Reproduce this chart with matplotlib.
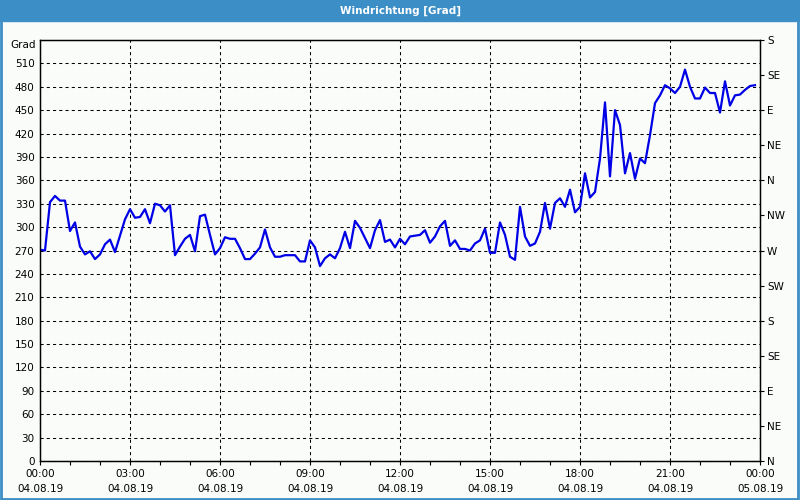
import numpy as np
import pandas as pd
import matplotlib
matplotlib.use('Agg')
import matplotlib.pyplot as plt
import matplotlib.dates as mdates

# wind direction in degrees, one value every 10 minutes from 04.08.19 00:00
grad_00_06 = [271, 270, 332, 340, 334, 334, 295, 306, 275, 265, 269, 259,
              265, 278, 284, 268, 289, 310, 323, 312, 313, 323, 305, 330,
              328, 320, 328, 264, 275, 285, 290, 269, 314, 316, 290, 265]
grad_06_12 = [273, 287, 285, 285, 273, 259, 259, 266, 274, 297, 274, 262,
              262, 264, 264, 264, 256, 256, 283, 274, 250, 260, 265, 260,
              273, 294, 273, 308, 299, 286, 273, 296, 309, 281, 284, 274]
grad_12_18 = [285, 278, 288, 289, 290, 296, 280, 288, 301, 308, 276, 283,
              272, 272, 270, 279, 283, 298, 267, 267, 306, 290, 262, 258,
              326, 288, 276, 279, 294, 331, 298, 331, 337, 326, 348, 319]
grad_18_24 = [326, 369, 338, 345, 388, 460, 365, 450, 431, 369, 395, 362,
              388, 382, 418, 459, 469, 482, 478, 472, 480, 502, 480, 465,
              465, 479, 472, 472, 447, 487, 456, 469, 470, 476, 481, 482]

werte = grad_00_06 + grad_06_12 + grad_12_18 + grad_18_24
zeit = pd.date_range('2019-08-04 00:00', periods=len(werte), freq='10min')

y_ticks = list(range(0, 511, 30))
richtungen = ['N', 'NE', 'E', 'SE', 'S', 'SW', 'W', 'NW',
              'N', 'NE', 'E', 'SE', 'S']

blau_bar = '#3c8fc6'
hg = '#fafcfa'

fig = plt.figure(figsize=(8, 5), dpi=100, facecolor=hg)
ax = fig.add_axes([0.05, 0.078, 0.9, 0.842], facecolor=hg)

# title bar + frame
fig.patches.append(plt.Rectangle((0, 1 - 21 / 500), 1, 21 / 500,
                                 transform=fig.transFigure, color=blau_bar, zorder=0))
fig.patches.append(plt.Rectangle((0.001, 0.002), 0.997, 0.995, transform=fig.transFigure,
                                 fill=False, edgecolor=blau_bar, linewidth=2, zorder=0))
fig.text(0.5, 1 - 10.5 / 500, 'Windrichtung [Grad]', color='white', fontweight='bold',
         fontsize=7.5, ha='center', va='center')

ax.plot(zeit, werte, color='#0000e6', linewidth=1.6, zorder=3)

start = pd.Timestamp('2019-08-04 00:00')
ende = pd.Timestamp('2019-08-05 00:00')
ax.set_xlim(start, ende)
ax.set_ylim(0, 540)

ax.set_yticks(y_ticks)
ax.set_yticklabels([str(v) for v in y_ticks], fontsize=7.5)
ax.tick_params(axis='y', length=0, pad=4)

major = pd.date_range(start, ende, freq='3h')
ax.set_xticks(major)
ax.set_xticklabels([d.strftime('%H:%M') + '\n' + d.strftime('%d.%m.%y') for d in major],
                   fontsize=7.5, linespacing=1.6)
ax.xaxis.set_minor_locator(mdates.HourLocator())
ax.tick_params(axis='x', which='both', length=3, width=0.8, pad=3)

ax.grid(True, color='black', linestyle=(0, (3, 3)), linewidth=0.75)
for s in ax.spines.values():
    s.set_color('black')
    s.set_linewidth(1)

ax.text(-0.006, 534, 'Grad', transform=ax.get_yaxis_transform(), ha='right', va='center',
        fontsize=7.5)

ax2 = ax.twinx()
ax2.set_ylim(0, 540)
ax2.set_yticks(range(0, 541, 45))
ax2.set_yticklabels(richtungen, fontsize=7.5)
ax2.tick_params(axis='y', length=3, width=0.8, pad=2)

fig.savefig('out.png', dpi=100, facecolor=hg)
